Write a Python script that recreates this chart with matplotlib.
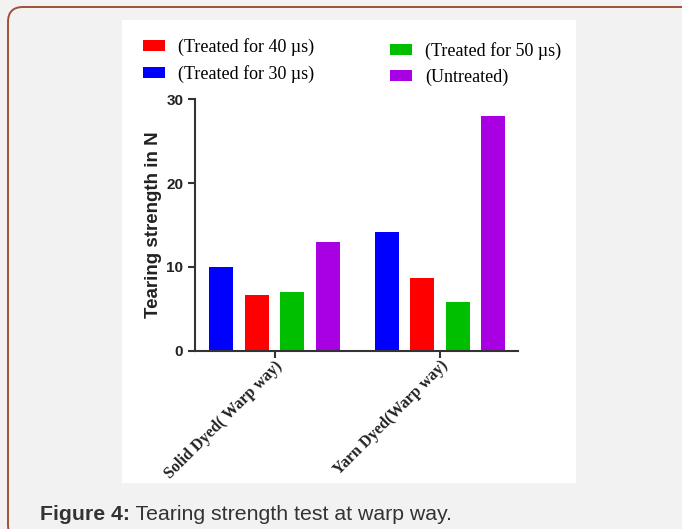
import matplotlib.pyplot as plt
from matplotlib.patches import FancyBboxPatch, Rectangle
from matplotlib.transforms import IdentityTransform

# Tearing strength (N) at warp way, one value per fabric type
categories = ["Solid Dyed( Warp way)", "Yarn Dyed(Warp way)"]
treated_30 = [10.0, 14.2]
treated_40 = [6.6, 8.7]
treated_50 = [7.0, 5.8]
untreated = [13.0, 28.0]

series_labels = ["(Treated for 30 \u00b5s)", "(Treated for 40 \u00b5s)",
                 "(Treated for 50 \u00b5s)", "(Untreated)"]
series_colors = ["#0000ff", "#ff0000", "#00bf00", "#a900e3"]

W, H = 682, 529
fig = plt.figure(figsize=(W / 100, H / 100), dpi=100)
fig.patch.set_facecolor("#f2f2f2")


def px(x, y):
    # pixel coords measured from the top-left corner
    return x, H - y


# rounded frame and the white card behind the chart
frame = FancyBboxPatch(px(8, 540), 690, 533, boxstyle="round,pad=0,rounding_size=15",
                       transform=IdentityTransform(), facecolor="none",
                       edgecolor="#a0503a", linewidth=1.4, zorder=-2)
fig.add_artist(frame)
card = Rectangle(px(122, 483), 454, 463, transform=IdentityTransform(),
                 facecolor="white", edgecolor="none", zorder=-1)
fig.add_artist(card)

ax = fig.add_axes([195 / W, (H - 350.7) / H, (518 - 195) / W, (350.7 - 99.3) / H])
ax.set_facecolor("white")

group_starts = [0, 4.66]
width = 0.68
values = [treated_30, treated_40, treated_50, untreated]
handles = {}
for i, (vals, lab, col) in enumerate(zip(values, series_labels, series_colors)):
    xs = [g + i for g in group_starts]
    bars = ax.bar(xs, vals, width=width, color=col, edgecolor="none", label=lab)
    handles[lab] = bars

ax.set_xlim(-0.74, 8.36)
ax.set_ylim(0, 30)
ax.set_yticks([0, 10, 20, 30])
ax.set_xticks([g + 1.5 for g in group_starts])
ax.set_xticklabels(categories, rotation=45, ha="right", va="top",
                   rotation_mode="anchor", family="Liberation Serif",
                   fontweight="bold", fontsize=11.5, color="#222222")
for t in ax.get_yticklabels():
    t.set_fontweight("bold")
    t.set_family("Liberation Sans")
    t.set_fontsize(11)
    t.set_color("#222222")

for s in ["top", "right"]:
    ax.spines[s].set_visible(False)
for s in ["left", "bottom"]:
    ax.spines[s].set_linewidth(1.5)
    ax.spines[s].set_color("#333333")
ax.tick_params(axis="both", direction="out", length=5, width=1.5, color="#333333")
ax.tick_params(axis="x", pad=0)

ax.set_ylabel("Tearing strength in N", family="Liberation Sans", fontweight="bold",
              fontsize=13.5, color="#222222", labelpad=3)

leg_kw = dict(frameon=False, prop={"family": "Liberation Serif", "size": 13},
              handlelength=1.2, handleheight=0.55, handletextpad=0.75,
              labelspacing=0.5, borderpad=0, borderaxespad=0)
left_leg = fig.legend([handles[series_labels[1]], handles[series_labels[0]]],
                      [series_labels[1], series_labels[0]],
                      loc="upper left", bbox_to_anchor=(143 / W, 1 - 38 / H), **leg_kw)
right_leg = fig.legend([handles[series_labels[2]], handles[series_labels[3]]],
                       [series_labels[2], series_labels[3]],
                       loc="upper left", bbox_to_anchor=(390 / W, 1 - 42 / H), **leg_kw)

cap1 = fig.text(40 / W, 1 - 520 / H, "Figure 4:", family="Liberation Sans",
                fontweight="bold", fontsize=15.3, color="#333333", va="baseline")
ax.annotate(" Tearing strength test at warp way.", xy=(1, 0), xycoords=cap1,
            va="bottom", ha="left", family="Liberation Sans", fontsize=15.3,
            color="#333333", annotation_clip=False)

fig.savefig("out.png", dpi=100, facecolor=fig.get_facecolor())
